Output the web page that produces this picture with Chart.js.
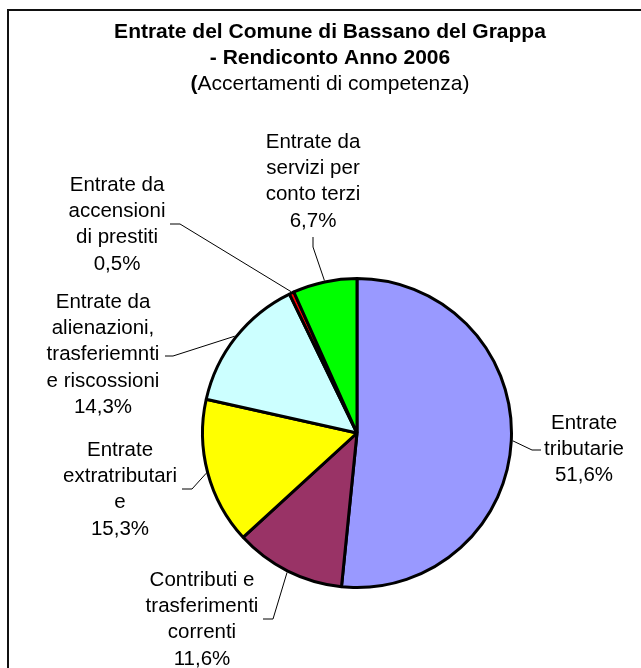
<!DOCTYPE html>
<html>
<head>
<meta charset="utf-8">
<script src="https://cdn.jsdelivr.net/npm/chart.js@4/dist/chart.umd.min.js"></script>
<style>
  html, body { margin: 0; padding: 0; background: #fff; }
  canvas { display: block; }
</style>
</head>
<body>
<canvas id="entrateChart" width="641" height="668"></canvas>
<script>
// Rendiconto 2006 - entrate (accertamenti di competenza), valori in %
var categories = [
    ["Entrate", "tributarie"],
    ["Contributi e", "trasferimenti", "correnti"],
    ["Entrate", "extratributari", "e"],
    ["Entrate da", "alienazioni,", "trasferiemnti", "e riscossioni"],
    ["Entrate da", "accensioni", "di prestiti"],
    ["Entrate da", "servizi per", "conto terzi"]
];
var percentages = [51.6, 11.6, 15.3, 14.3, 0.5, 6.7];
var sliceColors = ['#9999FF', '#993366', '#FFFF00', '#CCFFFF', '#FF0000', '#00FF00'];

var titleLines = ["Entrate del Comune di Bassano del Grappa", "- Rendiconto Anno 2006"];
var subtitle = "Accertamenti di competenza)";

// where each label block sits, and the leader line's two points on the label side
var labelLayout = [
    { cx: 584, cy: 423, from: [541, 450], elbow: [532, 450] },
    { cx: 202, cy: 580, from: [263, 619], elbow: [273, 619] },
    { cx: 120, cy: 450, from: [182, 489], elbow: [192, 489] },
    { cx: 103, cy: 302, from: [165, 356], elbow: [173, 356] },
    { cx: 117, cy: 185, from: [170, 224], elbow: [180, 224] },
    { cx: 313, cy: 142, from: [313, 237], elbow: [313, 247] }
];
var lineHeight = 26.3;
var FONT = '"Liberation Sans", Arial, sans-serif';

function fmtPct(v) {
    return v.toFixed(1).replace('.', ',') + '%';
}

var frame = {
    id: 'frame',
    beforeDraw: function (chart) {
        var ctx = chart.ctx;
        ctx.save();
        ctx.fillStyle = '#fff';
        ctx.fillRect(0, 0, chart.width, chart.height);
        ctx.strokeStyle = '#111';
        ctx.lineWidth = 2;
        ctx.beginPath();
        ctx.moveTo(chart.width, 10);
        ctx.lineTo(8, 10);
        ctx.lineTo(8, chart.height);
        ctx.stroke();
        ctx.restore();
    },
    afterDraw: function (chart) {
        var ctx = chart.ctx;
        var cx = 330;
        ctx.save();
        ctx.fillStyle = '#000';
        ctx.textAlign = 'center';
        ctx.textBaseline = 'middle';
        ctx.font = 'bold 21px ' + FONT;
        ctx.fillText(titleLines[0], cx, 32);
        ctx.fillText(titleLines[1], cx, 58);
        // third line: bold opening bracket, rest normal
        var w1 = ctx.measureText('(').width;
        ctx.font = '21px ' + FONT;
        var w2 = ctx.measureText(subtitle).width;
        var x0 = cx - (w1 + w2) / 2;
        ctx.textAlign = 'left';
        ctx.font = 'bold 21px ' + FONT;
        ctx.fillText('(', x0, 84);
        ctx.font = '21px ' + FONT;
        ctx.fillText(subtitle, x0 + w1, 84);
        ctx.restore();
    }
};

var sliceLabels = {
    id: 'sliceLabels',
    afterDatasetsDraw: function (chart) {
        var ctx = chart.ctx;
        var meta = chart.getDatasetMeta(0);
        var values = chart.data.datasets[0].data;
        ctx.save();
        meta.data.forEach(function (arc, i) {
            var lay = labelLayout[i];
            var p = arc.getProps(['x', 'y', 'startAngle', 'endAngle', 'outerRadius'], true);
            var mid = (p.startAngle + p.endAngle) / 2;
            var r = p.outerRadius + 1.5;
            var ax = p.x + Math.cos(mid) * r;
            var ay = p.y + Math.sin(mid) * r;

            ctx.strokeStyle = '#000';
            ctx.lineWidth = 1;
            ctx.beginPath();
            ctx.moveTo(lay.from[0], lay.from[1]);
            ctx.lineTo(lay.elbow[0], lay.elbow[1]);
            ctx.lineTo(ax, ay);
            ctx.stroke();

            var lines = chart.data.labels[i].concat([fmtPct(values[i])]);
            ctx.fillStyle = '#000';
            ctx.font = '20.5px ' + FONT;
            ctx.textAlign = 'center';
            ctx.textBaseline = 'middle';
            lines.forEach(function (t, k) {
                ctx.fillText(t, lay.cx, lay.cy + k * lineHeight);
            });
        });
        ctx.restore();
    }
};

var config = {
    type: 'pie',
    data: {
        labels: categories,
        datasets: [{
            data: percentages,
            backgroundColor: sliceColors,
            borderColor: '#000',
            borderWidth: 3
        }]
    },
    options: {
        responsive: false,
        animation: false,
        layout: {
            padding: { left: 201, right: 128, top: 277, bottom: 79 }
        },
        plugins: {
            legend: { display: false },
            title: { display: false },
            tooltip: { enabled: false }
        }
    },
    plugins: [frame, sliceLabels]
};

var ctx = document.getElementById("entrateChart");
window.entrateChart = new Chart(ctx, config);
</script>
</body>
</html>
